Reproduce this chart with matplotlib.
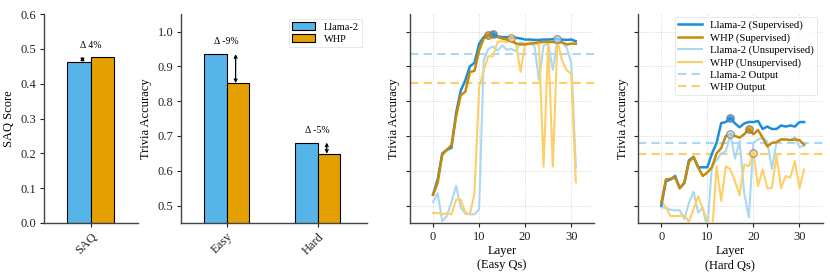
import matplotlib
matplotlib.use("Agg")
import matplotlib.pyplot as plt
import numpy as np

plt.rcParams['font.family'] = ['Liberation Serif', 'DejaVu Serif']
plt.rcParams['font.size'] = 8

# ---- data ----
models = ["Llama-2", "WHP"]
saq_scores = [0.462, 0.478]
saq_delta = "Δ 4%"
difficulty = ["Easy", "Hard"]
trivia_llama = [0.935, 0.681]
trivia_whp = [0.852, 0.649]
trivia_delta = ["Δ -9%", "Δ -5%"]

layers = list(range(32))
easy_llama_sup = [0.532, 0.575, 0.65, 0.66, 0.666, 0.766, 0.83, 0.86, 0.90, 0.91, 0.965, 0.984,
                  0.99, 0.993, 0.986, 0.984, 0.984, 0.983, 0.982, 0.98, 0.977, 0.977, 0.976, 0.976,
                  0.977, 0.977, 0.978, 0.979, 0.977, 0.976, 0.977, 0.972]
easy_whp_sup = [0.531, 0.565, 0.646, 0.66, 0.674, 0.755, 0.817, 0.827, 0.884, 0.887, 0.946, 0.98,
                0.989, 0.988, 0.984, 0.98, 0.977, 0.972, 0.966, 0.963, 0.963, 0.965, 0.967, 0.969,
                0.97, 0.97, 0.97, 0.969, 0.969, 0.963, 0.965, 0.965]
easy_llama_unsup = [0.51, 0.536, 0.455, 0.47, 0.51, 0.557, 0.495, 0.477, 0.475, 0.475, 0.49, 0.917,
                    0.95, 0.957, 0.945, 0.96, 0.948, 0.95, 0.944, 0.97, 0.965, 0.965, 0.96, 0.86,
                    0.96, 0.965, 0.89, 0.979, 0.967, 0.955, 0.91, 0.61]
easy_whp_unsup = [0.479, 0.479, 0.475, 0.478, 0.475, 0.517, 0.517, 0.48, 0.475, 0.536, 0.84, 0.889,
                  0.929, 0.929, 0.97, 0.972, 0.969, 0.98, 0.966, 0.884, 0.965, 0.969, 0.967, 0.96,
                  0.612, 0.974, 0.612, 0.975, 0.917, 0.889, 0.879, 0.567]
easy_llama_out = 0.935
easy_whp_out = 0.852

hard_llama_sup = [0.50, 0.57, 0.575, 0.585, 0.55, 0.565, 0.63, 0.64, 0.61, 0.61, 0.61, 0.65,
                  0.68, 0.737, 0.74, 0.752, 0.736, 0.725, 0.736, 0.74, 0.74, 0.743, 0.72, 0.727,
                  0.72, 0.72, 0.73, 0.727, 0.73, 0.727, 0.74, 0.74]
hard_whp_sup = [0.507, 0.575, 0.577, 0.58, 0.55, 0.565, 0.625, 0.64, 0.61, 0.585, 0.595, 0.61,
                0.65, 0.665, 0.70, 0.705, 0.70, 0.695, 0.705, 0.72, 0.705, 0.717, 0.695, 0.67,
                0.68, 0.682, 0.69, 0.69, 0.688, 0.69, 0.688, 0.675]
hard_llama_unsup = [0.495, 0.493, 0.488, 0.486, 0.487, 0.461, 0.508, 0.54, 0.48, 0.494, 0.43, 0.617,
                    0.63, 0.65, 0.655, 0.705, 0.635, 0.685, 0.536, 0.466, 0.68, 0.69, 0.695, 0.685,
                    0.605, 0.68, 0.69, 0.69, 0.688, 0.697, 0.668, 0.672]
hard_whp_unsup = [0.513, 0.494, 0.47, 0.47, 0.47, 0.472, 0.453, 0.49, 0.527, 0.49, 0.456, 0.42,
                  0.613, 0.513, 0.613, 0.604, 0.57, 0.53, 0.618, 0.613, 0.652, 0.556, 0.604, 0.55,
                  0.55, 0.643, 0.55, 0.585, 0.58, 0.628, 0.55, 0.604]
hard_llama_out = 0.681
hard_whp_out = 0.649

# ---- style ----
c_blue = "#56B4E9"
c_orange = "#E69F00"
c_blue_sup = "#1B8FDB"
c_orange_sup = "#C98A08"
c_blue_unsup = "#A9D8F4"
c_orange_unsup = "#FFCF66"
spine_c = "#444444"

fig = plt.figure(figsize=(8.3, 2.77), dpi=100)
bot, h = 0.195, 0.754
ax1 = fig.add_axes([0.053, bot, 0.113, h])
ax2 = fig.add_axes([0.218, bot, 0.224, h])
ax3 = fig.add_axes([0.494, bot, 0.222, h], sharey=ax2)
ax4 = fig.add_axes([0.769, bot, 0.222, h], sharey=ax2)

def style(ax):
    for s in ["top", "right"]:
        ax.spines[s].set_visible(False)
    for s in ["left", "bottom"]:
        ax.spines[s].set_color(spine_c)
        ax.spines[s].set_linewidth(1.0)
    ax.tick_params(colors="#222222", length=3, width=0.8, labelsize=9, pad=2.5)

w = 0.25
# panel 1: SAQ
style(ax1)
ax1.bar(-w / 2, saq_scores[0], w, color=c_blue, edgecolor="black", linewidth=0.8)
ax1.bar(w / 2, saq_scores[1], w, color=c_orange, edgecolor="black", linewidth=0.8)
ax1.annotate("", xy=(-0.09, saq_scores[0]), xytext=(-0.09, saq_scores[1]),
             arrowprops=dict(arrowstyle="<->", lw=0.9, color="black",
                             shrinkA=0, shrinkB=0, mutation_scale=5))
ax1.text(0, max(saq_scores) + 0.018, saq_delta, ha="center", va="bottom", fontsize=7)
ax1.set_xlim(-0.5, 0.5)
ax1.set_ylim(0, 0.6)
ax1.set_xticks([0])
ax1.set_xticklabels(["SAQ"], rotation=45, ha="right", rotation_mode="anchor")
ax1.set_ylabel("SAQ Score", fontsize=9)

# panel 2: trivia bars
style(ax2)
x = np.arange(len(difficulty))
ax2.bar(x - w / 2, trivia_llama, w, color=c_blue, edgecolor="black", linewidth=0.8, label=models[0])
ax2.bar(x + w / 2, trivia_whp, w, color=c_orange, edgecolor="black", linewidth=0.8, label=models[1])
for i in range(len(difficulty)):
    ax2.annotate("", xy=(x[i] + 0.1, trivia_whp[i]), xytext=(x[i] + 0.1, trivia_llama[i]),
                 arrowprops=dict(arrowstyle="<->", lw=0.9, color="black",
                                 shrinkA=0, shrinkB=0, mutation_scale=5))
    ax2.text(x[i], max(trivia_llama[i], trivia_whp[i]) + 0.022, trivia_delta[i],
             ha="center", va="bottom", fontsize=7)
ax2.set_xlim(-0.5, 1.54)
ax2.set_ylim(0.45, 1.05)
ax2.set_yticks([0.5, 0.6, 0.7, 0.8, 0.9, 1.0])
ax2.set_xticks(x)
ax2.set_xticklabels(difficulty, rotation=45, ha="right", rotation_mode="anchor")
ax2.set_ylabel("Trivia Accuracy", fontsize=9)
leg = ax2.legend(loc="upper right", fontsize=7.5, frameon=True, fancybox=False,
                 handlelength=2.2, borderpad=0.3, labelspacing=0.25)
leg.get_frame().set_edgecolor("#dddddd")
leg.get_frame().set_linewidth(0.6)

def layer_panel(ax, lsup, wsup, lun, wun, lout, wout, xlabel, show_legend):
    style(ax)
    ax.grid(True, linestyle=":", color="#cccccc", linewidth=0.6)
    ax.set_axisbelow(True)
    ax.plot(layers, lsup, color=c_blue_sup, lw=1.8, label="Llama-2 (Supervised)", zorder=4)
    ax.plot(layers, wsup, color=c_orange_sup, lw=1.8, label="WHP (Supervised)", zorder=5)
    ax.plot(layers, lun, color=c_blue_unsup, lw=1.5, label="Llama-2 (Unsupervised)", zorder=3)
    ax.plot(layers, wun, color=c_orange_unsup, lw=1.5, label="WHP (Unsupervised)", zorder=3)
    ax.axhline(lout, color=c_blue_unsup, lw=1.5, ls=(0, (4, 2.5)), label="Llama-2 Output", zorder=2)
    ax.axhline(wout, color=c_orange_unsup, lw=1.5, ls=(0, (4, 2.5)), label="WHP Output", zorder=2)
    for series, col in [(lsup, c_blue_sup), (wsup, c_orange_sup), (lun, c_blue_unsup), (wun, c_orange_unsup)]:
        i = int(np.argmax(series))
        ax.plot(layers[i], series[i], "o", ms=5.5, mfc=col, mec="#777777", mew=0.8, alpha=0.75, zorder=6)
    ax.set_xlim(-5, 35)
    ax.set_xticks([0, 10, 20, 30])
    ax.tick_params(axis="y", labelleft=False)
    ax.set_ylabel("Trivia Accuracy", fontsize=9)
    ax.set_xlabel(xlabel, fontsize=9, labelpad=2, linespacing=1.2)
    if show_legend:
        lg = ax.legend(loc="upper right", fontsize=7.7, frameon=True, fancybox=True,
                       borderpad=0.3, labelspacing=0.25, handlelength=2.2,
                       bbox_to_anchor=(1.0, 1.01))
        lg.get_frame().set_edgecolor("#dddddd")
        lg.get_frame().set_linewidth(0.6)

layer_panel(ax3, easy_llama_sup, easy_whp_sup, easy_llama_unsup, easy_whp_unsup,
            easy_llama_out, easy_whp_out, "Layer\n(Easy Qs)", False)
layer_panel(ax4, hard_llama_sup, hard_whp_sup, hard_llama_unsup, hard_whp_unsup,
            hard_llama_out, hard_whp_out, "Layer\n(Hard Qs)", True)
ax2.set_ylim(0.45, 1.05)

fig.savefig("out.png", dpi=100)
